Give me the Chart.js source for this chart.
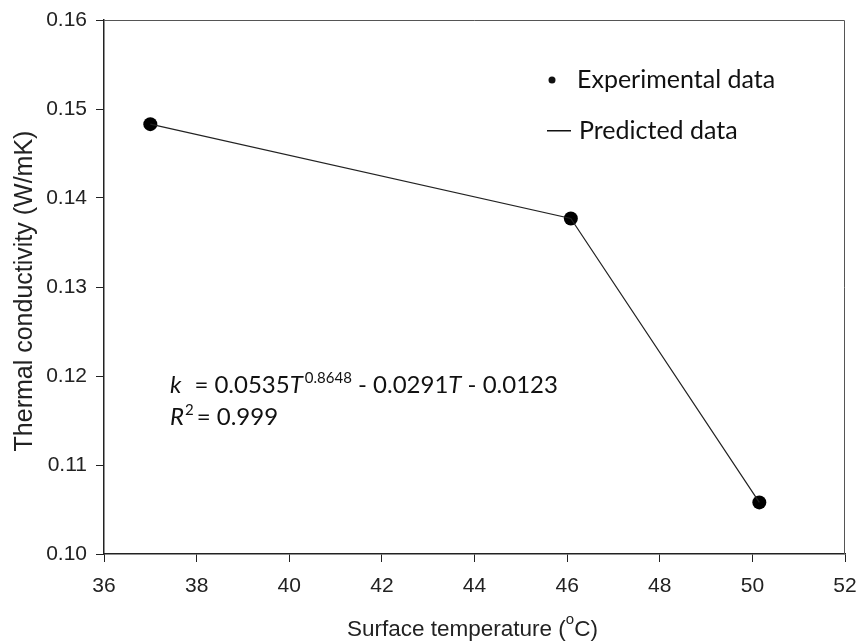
<!DOCTYPE html>
<html>
<head>
<meta charset="utf-8">
<script src="https://cdn.jsdelivr.net/npm/chart.js@4/dist/chart.umd.min.js"></script>
<style>
  html, body { margin: 0; padding: 0; background: #fff; }
  #box { width: 858px; height: 644px; }
</style>
</head>
<body>
<div id="box"><canvas id="myChart" width="858" height="644"></canvas></div>
<script>
// surface temperature (C) and thermal conductivity (W/mK)
const tempC = [37.0, 46.08, 50.15]
const kExperimental = [0.1483, 0.1377, 0.1058]
const kPredicted = [0.1483, 0.1377, 0.1058]

const xTicks = [36, 38, 40, 42, 44, 46, 48, 50, 52]
const yTicks = [0.10, 0.11, 0.12, 0.13, 0.14, 0.15, 0.16]

const legendLabels = ['Experimental data', 'Predicted data']
const xTitle = ['Surface temperature (', 'o', 'C)']
const yTitle = 'Thermal conductivity (W/mK)'

const axisFont = '"Liberation Sans", Arial, sans-serif'
const noteFont = 'Lato, "Open Sans", sans-serif'

// frame, legend, equation and titles drawn on top of the chart
const extrasPlugin = {
  id: 'extras',
  afterDraw(chart) {
    const ctx = chart.ctx
    const a = chart.chartArea
    ctx.save()

    // top and right edges of the frame
    ctx.strokeStyle = '#555'
    ctx.lineWidth = 1
    ctx.beginPath()
    ctx.moveTo(a.left, a.top + 0.5)
    ctx.lineTo(a.right - 0.5, a.top + 0.5)
    ctx.lineTo(a.right - 0.5, a.bottom)
    ctx.stroke()

    ctx.fillStyle = '#111'
    ctx.textBaseline = 'alphabetic'

    // legend
    ctx.beginPath()
    ctx.arc(552, 80, 3.5, 0, Math.PI * 2)
    ctx.fill()
    ctx.font = '25px ' + noteFont
    ctx.fillText(legendLabels[0], 577, 88)
    ctx.fillRect(547, 130, 24, 1.5)
    ctx.fillText(legendLabels[1], 579, 139)

    // fitted equation
    let x = 170
    const put = (txt, font, dy) => {
      ctx.font = font
      ctx.fillText(txt, x, 393 + (dy || 0))
      x += ctx.measureText(txt).width
    }
    put('k', 'italic 24px ' + noteFont)
    x += 13
    put('= 0.0535', '24px ' + noteFont)
    put('T', 'italic 24px ' + noteFont)
    x += 2
    put('0.8648', '15px ' + noteFont, -10)
    put(' - 0.0291', '24px ' + noteFont)
    put('T', 'italic 24px ' + noteFont)
    put(' - 0.0123', '24px ' + noteFont)

    x = 170
    ctx.font = 'italic 24px ' + noteFont
    ctx.fillText('R', x, 425)
    x += ctx.measureText('R').width + 1
    ctx.font = '15px ' + noteFont
    ctx.fillText('2', x, 415)
    x += ctx.measureText('2').width + 3
    ctx.font = '24px ' + noteFont
    ctx.fillText('= 0.999', x, 425)

    // x axis title with superscript o
    ctx.fillStyle = '#222'
    const big = '22.5px ' + axisFont
    const small = '15px ' + axisFont
    ctx.font = big
    const w0 = ctx.measureText(xTitle[0]).width
    ctx.font = small
    const w1 = ctx.measureText(xTitle[1]).width
    let tx = 347
    ctx.font = big
    ctx.fillText(xTitle[0], tx, 636)
    tx += w0
    ctx.font = small
    ctx.fillText(xTitle[1], tx, 624)
    tx += w1
    ctx.font = big
    ctx.fillText(xTitle[2], tx, 636)

    // y axis title
    ctx.translate(32, 291)
    ctx.rotate(-Math.PI / 2)
    ctx.textAlign = 'center'
    ctx.font = '25px ' + axisFont
    ctx.fillText(yTitle, 0, 0)

    ctx.restore()
  }
}

function drawChart() {
  const ctx = document.getElementById('myChart')
  const myChart = new Chart(ctx, {
    type: 'scatter',
    data: {
      datasets: [
        {
          label: legendLabels[1],
          data: tempC.map((t, i) => ({ x: t, y: kPredicted[i] })),
          showLine: true,
          borderColor: '#222',
          borderWidth: 1.2,
          pointRadius: 0,
          tension: 0,
        },
        {
          label: legendLabels[0],
          data: tempC.map((t, i) => ({ x: t, y: kExperimental[i] })),
          showLine: false,
          pointRadius: 7,
          pointBackgroundColor: '#000',
          pointBorderColor: '#000',
          borderWidth: 0,
        },
      ],
    },
    options: {
      responsive: false,
      animation: false,
      events: [],
      layout: { padding: { top: 20, right: 13, left: 0, bottom: 0 } },
      plugins: {
        legend: { display: false },
        tooltip: { enabled: false },
      },
      scales: {
        x: {
          type: 'linear',
          min: xTicks[0],
          max: xTicks[xTicks.length - 1],
          afterBuildTicks: s => { s.ticks = xTicks.map(v => ({ value: v })) },
          afterFit: s => {
            s.height = 90
            s.paddingLeft = 0
            s.paddingRight = 0
          },
          grid: { drawOnChartArea: false, tickLength: 8, color: '#222' },
          border: { color: '#222', width: 1.5 },
          ticks: { color: '#222', font: { family: axisFont, size: 21 }, padding: 12, maxRotation: 0 },
        },
        y: {
          type: 'linear',
          min: yTicks[0],
          max: yTicks[yTicks.length - 1],
          afterBuildTicks: s => { s.ticks = yTicks.map(v => ({ value: v })) },
          afterFit: s => {
            s.width = 104
            s.paddingTop = 0
            s.paddingBottom = 0
          },
          grid: { drawOnChartArea: false, tickLength: 8, color: '#222' },
          border: { color: '#222', width: 1.5 },
          ticks: {
            color: '#222',
            font: { family: axisFont, size: 21 },
            padding: 9,
            callback: v => v.toFixed(2),
          },
        },
      },
    },
    plugins: [extrasPlugin],
  })
}

drawChart()
</script>
</body>
</html>
